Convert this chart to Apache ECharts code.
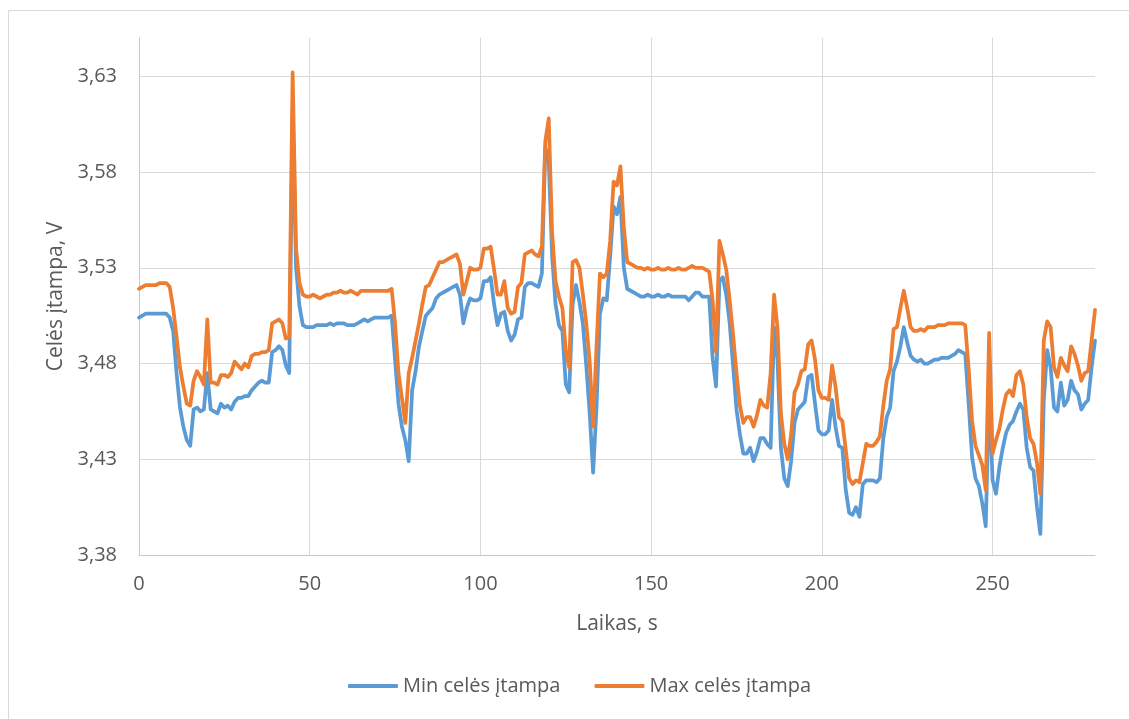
<!DOCTYPE html>
<html>
<head>
<meta charset="utf-8">
<script src="https://cdn.jsdelivr.net/npm/echarts@6/dist/echarts.min.js"></script>
<style>
  html, body { margin: 0; padding: 0; background: #ffffff; }
  #chart { width: 1129px; height: 719px; }
</style>
</head>
<body>
<div id="chart"></div>
<script>
// Sample times, one reading per second
const timeSeconds = Array.from({ length: 281 }, (_, i) => i);

// Lowest cell voltage, V
const minCellVoltage = [
  3.504, 3.505, 3.506, 3.506, 3.506, 3.506, 3.506, 3.506, 3.506, 3.504,
  3.497, 3.475, 3.457, 3.447, 3.440, 3.437, 3.456, 3.457, 3.455, 3.456,
  3.475, 3.456, 3.455, 3.454, 3.459, 3.457, 3.458, 3.456, 3.460, 3.462,
  3.462, 3.463, 3.463, 3.466, 3.468, 3.470, 3.471, 3.470, 3.470, 3.486,
  3.487, 3.489, 3.487, 3.479, 3.475, 3.612, 3.530, 3.510, 3.500, 3.499,
  3.499, 3.499, 3.500, 3.500, 3.500, 3.500, 3.501, 3.500, 3.501, 3.501,
  3.501, 3.500, 3.500, 3.500, 3.501, 3.502, 3.503, 3.502, 3.503, 3.504,
  3.504, 3.504, 3.504, 3.504, 3.505, 3.482, 3.459, 3.447, 3.440, 3.429,
  3.466, 3.476, 3.489, 3.497, 3.505, 3.507, 3.509, 3.514, 3.516, 3.517,
  3.518, 3.519, 3.520, 3.521, 3.516, 3.501, 3.509, 3.514, 3.513, 3.513,
  3.514, 3.523, 3.523, 3.525, 3.511, 3.500, 3.506, 3.507, 3.497, 3.492,
  3.495, 3.503, 3.504, 3.520, 3.522, 3.522, 3.521, 3.520, 3.527, 3.593,
  3.586, 3.536, 3.511, 3.500, 3.497, 3.469, 3.465, 3.511, 3.521, 3.512,
  3.501, 3.479, 3.454, 3.423, 3.457, 3.506, 3.514, 3.513, 3.536, 3.562,
  3.558, 3.567, 3.530, 3.519, 3.518, 3.517, 3.516, 3.515, 3.515, 3.516,
  3.515, 3.515, 3.516, 3.515, 3.515, 3.516, 3.515, 3.515, 3.515, 3.515,
  3.515, 3.513, 3.515, 3.517, 3.517, 3.515, 3.515, 3.515, 3.483, 3.468,
  3.523, 3.525, 3.516, 3.501, 3.479, 3.456, 3.443, 3.433, 3.433, 3.436,
  3.429, 3.434, 3.441, 3.441, 3.438, 3.436, 3.499, 3.482, 3.436, 3.420,
  3.416, 3.429, 3.449, 3.456, 3.458, 3.460, 3.473, 3.474, 3.459, 3.445,
  3.443, 3.443, 3.445, 3.461, 3.447, 3.437, 3.436, 3.414, 3.402, 3.401,
  3.405, 3.400, 3.417, 3.419, 3.419, 3.419, 3.418, 3.420, 3.441, 3.452,
  3.457, 3.476, 3.481, 3.489, 3.499, 3.491, 3.484, 3.482, 3.481, 3.482,
  3.480, 3.480, 3.481, 3.482, 3.482, 3.483, 3.483, 3.483, 3.484, 3.485,
  3.487, 3.486, 3.485, 3.459, 3.431, 3.420, 3.416, 3.407, 3.395, 3.466,
  3.419, 3.412, 3.426, 3.436, 3.444, 3.448, 3.450, 3.455, 3.459, 3.456,
  3.436, 3.426, 3.424, 3.405, 3.391, 3.461, 3.487, 3.478, 3.457, 3.455,
  3.470, 3.458, 3.461, 3.471, 3.466, 3.464, 3.456, 3.459, 3.461, 3.478,
  3.492
];

// Highest cell voltage, V
const maxCellVoltage = [
  3.519, 3.520, 3.521, 3.521, 3.521, 3.521, 3.522, 3.522, 3.522, 3.520,
  3.509, 3.494, 3.478, 3.468, 3.459, 3.458, 3.471, 3.476, 3.473, 3.469,
  3.503, 3.470, 3.470, 3.469, 3.474, 3.474, 3.473, 3.475, 3.481, 3.479,
  3.477, 3.480, 3.478, 3.484, 3.485, 3.485, 3.486, 3.486, 3.487, 3.501,
  3.502, 3.503, 3.501, 3.493, 3.494, 3.632, 3.540, 3.522, 3.516, 3.515,
  3.515, 3.516, 3.515, 3.514, 3.515, 3.516, 3.516, 3.517, 3.517, 3.518,
  3.517, 3.517, 3.518, 3.517, 3.516, 3.518, 3.518, 3.518, 3.518, 3.518,
  3.518, 3.518, 3.518, 3.518, 3.519, 3.501, 3.475, 3.462, 3.449, 3.475,
  3.483, 3.492, 3.501, 3.511, 3.520, 3.521, 3.525, 3.529, 3.533, 3.533,
  3.534, 3.535, 3.536, 3.537, 3.532, 3.516, 3.523, 3.530, 3.529, 3.529,
  3.530, 3.540, 3.540, 3.541, 3.529, 3.516, 3.516, 3.523, 3.509, 3.506,
  3.507, 3.520, 3.522, 3.537, 3.538, 3.539, 3.537, 3.536, 3.541, 3.596,
  3.608, 3.548, 3.523, 3.515, 3.509, 3.487, 3.478, 3.533, 3.534, 3.530,
  3.516, 3.501, 3.481, 3.447, 3.489, 3.527, 3.525, 3.527, 3.544, 3.575,
  3.573, 3.583, 3.551, 3.533, 3.532, 3.531, 3.530, 3.530, 3.529, 3.530,
  3.529, 3.529, 3.530, 3.529, 3.529, 3.530, 3.529, 3.529, 3.530, 3.529,
  3.529, 3.530, 3.531, 3.530, 3.530, 3.530, 3.529, 3.528, 3.513, 3.486,
  3.544, 3.537, 3.529, 3.513, 3.495, 3.475, 3.458, 3.449, 3.452, 3.452,
  3.447, 3.453, 3.461, 3.458, 3.457, 3.475, 3.516, 3.499, 3.454, 3.438,
  3.430, 3.443, 3.465, 3.469, 3.476, 3.477, 3.490, 3.492, 3.482, 3.466,
  3.462, 3.462, 3.461, 3.479, 3.468, 3.452, 3.450, 3.435, 3.420, 3.417,
  3.419, 3.418, 3.428, 3.438, 3.437, 3.437, 3.439, 3.442, 3.458, 3.471,
  3.477, 3.498, 3.499, 3.509, 3.518, 3.509, 3.499, 3.497, 3.497, 3.498,
  3.497, 3.499, 3.499, 3.499, 3.500, 3.500, 3.500, 3.501, 3.501, 3.501,
  3.501, 3.501, 3.500, 3.477, 3.450, 3.437, 3.432, 3.427, 3.414, 3.496,
  3.433, 3.440, 3.446, 3.456, 3.464, 3.466, 3.463, 3.474, 3.476, 3.469,
  3.452, 3.441, 3.438, 3.428, 3.412, 3.492, 3.502, 3.499, 3.478, 3.473,
  3.483, 3.479, 3.476, 3.489, 3.485, 3.479, 3.471, 3.475, 3.476, 3.492,
  3.508
];

// Axis settings and texts
const seriesNames = ['Min celės įtampa', 'Max celės įtampa'];
const seriesColors = ['#5b9bd5', '#ed7d31'];
const xAxisTitle = 'Laikas, s';
const yAxisTitle = 'Celės įtampa, V';
const xTicks = { min: 0, max: 280, step: 50 };
const yTicks = { min: 3.38, max: 3.65, step: 0.05 };

const FONT = "'Open Sans', 'Noto Sans', sans-serif";
const TEXT = '#595959';
const GRID = '#d9d9d9';

const pairs = (values) => timeSeconds.map((t, i) => [t, values[i]]);

const chart = echarts.init(document.getElementById('chart'), null, { renderer: 'canvas' });

chart.setOption({
  animation: false,
  backgroundColor: '#ffffff',
  textStyle: { fontFamily: FONT, color: TEXT },
  graphic: [{
    type: 'rect',
    shape: { x: 8.5, y: 10.5, width: 1300, height: 900 },
    style: { fill: 'none', stroke: GRID, lineWidth: 1 },
    silent: true
  }],
  grid: { left: 139, right: 34, top: 38, bottom: 164, containLabel: false },
  legend: {
    left: 348,
    top: 676,
    padding: 0,
    itemWidth: 50,
    itemHeight: 4,
    itemGap: 34,
    textStyle: { fontFamily: FONT, fontSize: 20, color: TEXT },
    data: seriesNames.map((name, i) => ({
      name,
      icon: 'roundRect',
      itemStyle: { color: seriesColors[i], borderWidth: 0 }
    }))
  },
  xAxis: {
    type: 'value',
    min: xTicks.min,
    max: xTicks.max,
    interval: xTicks.step,
    name: xAxisTitle,
    nameLocation: 'middle',
    nameGap: 59,
    nameTextStyle: { fontFamily: FONT, fontSize: 21, color: TEXT },
    axisLine: { show: true, lineStyle: { color: '#c8c8c8', width: 1 } },
    axisTick: { show: false },
    axisLabel: {
      fontFamily: FONT, fontSize: 20, color: TEXT, margin: 19,
      showMaxLabel: false
    },
    splitLine: { show: true, showMaxLine: false, lineStyle: { color: GRID, width: 1 } }
  },
  yAxis: {
    type: 'value',
    min: yTicks.min,
    max: yTicks.max,
    interval: yTicks.step,
    name: yAxisTitle,
    nameLocation: 'middle',
    nameGap: 72,
    nameTextStyle: { fontFamily: FONT, fontSize: 21, color: TEXT },
    axisLine: { show: true, lineStyle: { color: '#c8c8c8', width: 1 } },
    axisTick: { show: false },
    axisLabel: {
      fontFamily: FONT, fontSize: 20, color: TEXT, margin: 22,
      showMaxLabel: false,
      formatter: (v) => v.toFixed(2).replace('.', ',')
    },
    splitLine: { show: true, showMaxLine: false, lineStyle: { color: GRID, width: 1 } }
  },
  series: [
    {
      name: seriesNames[0],
      type: 'line',
      data: pairs(minCellVoltage),
      symbol: 'none',
      smooth: false,
      lineStyle: { color: seriesColors[0], width: 3.75, cap: 'round', join: 'round' },
      itemStyle: { color: seriesColors[0] },
      z: 2
    },
    {
      name: seriesNames[1],
      type: 'line',
      data: pairs(maxCellVoltage),
      symbol: 'none',
      smooth: false,
      lineStyle: { color: seriesColors[1], width: 3.75, cap: 'round', join: 'round' },
      itemStyle: { color: seriesColors[1] },
      z: 3
    }
  ]
});
</script>
</body>
</html>
